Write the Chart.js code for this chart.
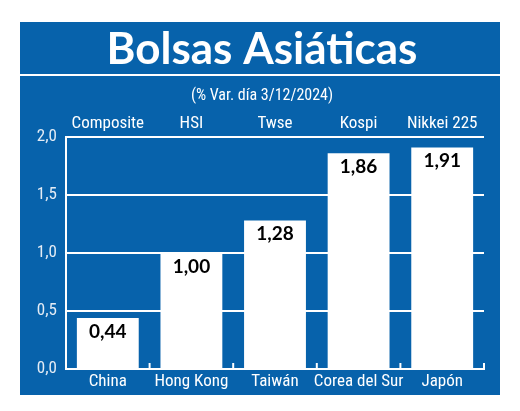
<!DOCTYPE html>
<html>
<head>
<meta charset="utf-8">
<script src="https://cdn.jsdelivr.net/npm/chart.js@4/dist/chart.umd.min.js"></script>
<style>
  html, body { margin: 0; padding: 0; background: #ffffff; }
  #wrap { width: 520px; height: 411px; position: relative; }
</style>
</head>
<body>
<div id="wrap"><canvas id="c" width="520" height="411"></canvas></div>
<script>
const titleText = "Bolsas Asiáticas";
const subtitleText = "(% Var. día 3/12/2024)";
const countries = ["China", "Hong Kong", "Taiwán", "Corea del Sur", "Japón"];
const indices = ["Composite", "HSI", "Twse", "Kospi", "Nikkei 225"];
const changes = [0.44, 1.00, 1.28, 1.86, 1.91];
const yTicks = [0, 0.5, 1.0, 1.5, 2.0];

const BLUE = "#0762ab";
const CONDENSED = "'Liberation Sans Narrow', 'Roboto Condensed', 'Open Sans Condensed', Lato, sans-serif";

const fmt = (v, d) => v.toFixed(d).replace('.', ',');

const panelPlugin = {
  id: 'panel',
  beforeDraw(chart) {
    const ctx = chart.ctx;
    ctx.save();
    ctx.fillStyle = BLUE;
    ctx.fillRect(20, 22, 480, 373);
    ctx.fillStyle = '#ffffff';
    ctx.fillRect(20, 74, 480, 2);
    ctx.textAlign = 'center';
    ctx.textBaseline = 'alphabetic';
    ctx.font = "bold 44px Lato, 'Open Sans', sans-serif";
    ctx.fillText(titleText, 262, 64);
    ctx.font = "16px " + CONDENSED;
    ctx.fillText(subtitleText, 262, 100);
    ctx.restore();
  },
  afterDatasetsDraw(chart) {
    const ctx = chart.ctx;
    const xs = chart.scales.x;
    const area = chart.chartArea;
    ctx.save();
    ctx.strokeStyle = '#ffffff';
    ctx.lineWidth = 2;
    for (let i = 1; i <= countries.length; i++) {
      const px = i < countries.length
        ? (xs.getPixelForValue(i - 1) + xs.getPixelForValue(i)) / 2
        : area.right;
      ctx.beginPath();
      ctx.moveTo(px, area.bottom);
      ctx.lineTo(px, area.bottom - 6);
      ctx.stroke();
    }
    // value labels
    const meta = chart.getDatasetMeta(0);
    ctx.fillStyle = '#000000';
    ctx.textAlign = 'center';
    ctx.textBaseline = 'top';
    ctx.font = "bold 19px Lato, 'Open Sans', sans-serif";
    meta.data.forEach((bar, i) => {
      ctx.fillText(fmt(changes[i], 2), bar.x, bar.y + 4);
    });
    ctx.restore();
  }
};

new Chart(document.getElementById('c'), {
  type: 'bar',
  data: {
    labels: countries,
    datasets: [{
      data: changes,
      backgroundColor: '#ffffff',
      borderWidth: 0,
      categoryPercentage: 0.74,
      barPercentage: 1.0
    }]
  },
  options: {
    responsive: false,
    animation: false,
    events: [],
    layout: { padding: { left: 0, right: 36, top: 0, bottom: 0 } },
    plugins: { legend: { display: false }, tooltip: { enabled: false }, title: { display: false } },
    scales: {
      x: {
        position: 'bottom',
        grid: { display: false, drawTicks: false },
        border: { display: true, color: '#ffffff', width: 2 },
        ticks: { color: '#ffffff', padding: 3, maxRotation: 0, minRotation: 0, autoSkip: false,
                 font: { family: CONDENSED, size: 17 } },
        afterFit(scale) { scale.height = 42; }
      },
      x2: {
        type: 'category',
        position: 'top',
        labels: indices,
        offset: true,
        grid: { display: false, drawTicks: false },
        border: { display: false },
        ticks: { color: '#ffffff', padding: 3, maxRotation: 0, minRotation: 0, autoSkip: false,
                 font: { family: CONDENSED, size: 17 } },
        afterFit(scale) { scale.height = 137; }
      },
      y: {
        min: 0,
        max: 2,
        afterBuildTicks(scale) { scale.ticks = yTicks.map(v => ({ value: v })); },
        grid: { color: '#ffffff', lineWidth: 2, drawTicks: false },
        border: { display: true, color: '#ffffff', width: 2 },
        ticks: {
          color: '#e4ecf5',
          padding: 9,
          font: { family: CONDENSED, size: 17 },
          callback: (v) => fmt(v, 1)
        },
        afterFit(scale) { scale.width = 66; }
      }
    }
  },
  plugins: [panelPlugin]
});
</script>
</body>
</html>
